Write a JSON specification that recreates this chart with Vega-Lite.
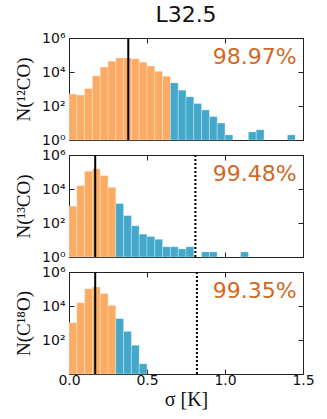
{
  "$schema": "https://vega.github.io/schema/vega-lite/v6.json",
  "padding": {"left": 14, "top": 3, "right": 5, "bottom": 5},
  "bounds": "flush",
  "datasets": {
    "bars": [
      {"p":1,"lo":0.00,"hi":0.05,"n":500,"c":"in"},
      {"p":1,"lo":0.05,"hi":0.10,"n":440,"c":"in"},
      {"p":1,"lo":0.10,"hi":0.15,"n":1070,"c":"in"},
      {"p":1,"lo":0.15,"hi":0.20,"n":5900,"c":"in"},
      {"p":1,"lo":0.20,"hi":0.25,"n":19500,"c":"in"},
      {"p":1,"lo":0.25,"hi":0.30,"n":43600,"c":"in"},
      {"p":1,"lo":0.30,"hi":0.35,"n":67000,"c":"in"},
      {"p":1,"lo":0.35,"hi":0.40,"n":67000,"c":"in"},
      {"p":1,"lo":0.40,"hi":0.45,"n":60000,"c":"in"},
      {"p":1,"lo":0.45,"hi":0.50,"n":38000,"c":"in"},
      {"p":1,"lo":0.50,"hi":0.55,"n":22400,"c":"in"},
      {"p":1,"lo":0.55,"hi":0.60,"n":11000,"c":"in"},
      {"p":1,"lo":0.60,"hi":0.65,"n":5600,"c":"in"},
      {"p":1,"lo":0.65,"hi":0.70,"n":2300,"c":"out"},
      {"p":1,"lo":0.70,"hi":0.75,"n":850,"c":"out"},
      {"p":1,"lo":0.75,"hi":0.80,"n":350,"c":"out"},
      {"p":1,"lo":0.80,"hi":0.85,"n":140,"c":"out"},
      {"p":1,"lo":0.85,"hi":0.90,"n":59,"c":"out"},
      {"p":1,"lo":0.90,"hi":0.95,"n":24,"c":"out"},
      {"p":1,"lo":0.95,"hi":1.00,"n":10,"c":"out"},
      {"p":1,"lo":1.00,"hi":1.05,"n":2,"c":"out"},
      {"p":1,"lo":1.15,"hi":1.20,"n":3,"c":"out"},
      {"p":1,"lo":1.20,"hi":1.25,"n":4,"c":"out"},
      {"p":1,"lo":1.40,"hi":1.45,"n":2,"c":"out"},
      {"p":2,"lo":0.00,"hi":0.05,"n":980,"c":"in"},
      {"p":2,"lo":0.05,"hi":0.10,"n":15800,"c":"in"},
      {"p":2,"lo":0.10,"hi":0.15,"n":112000,"c":"in"},
      {"p":2,"lo":0.15,"hi":0.20,"n":155000,"c":"in"},
      {"p":2,"lo":0.20,"hi":0.25,"n":62000,"c":"in"},
      {"p":2,"lo":0.25,"hi":0.30,"n":12600,"c":"in"},
      {"p":2,"lo":0.30,"hi":0.35,"n":1410,"c":"out"},
      {"p":2,"lo":0.35,"hi":0.40,"n":275,"c":"out"},
      {"p":2,"lo":0.40,"hi":0.45,"n":69,"c":"out"},
      {"p":2,"lo":0.45,"hi":0.50,"n":22,"c":"out"},
      {"p":2,"lo":0.50,"hi":0.55,"n":16,"c":"out"},
      {"p":2,"lo":0.55,"hi":0.60,"n":11,"c":"out"},
      {"p":2,"lo":0.60,"hi":0.65,"n":4,"c":"out"},
      {"p":2,"lo":0.65,"hi":0.70,"n":4,"c":"out"},
      {"p":2,"lo":0.70,"hi":0.75,"n":3,"c":"out"},
      {"p":2,"lo":0.75,"hi":0.80,"n":4,"c":"out"},
      {"p":2,"lo":0.85,"hi":0.90,"n":2,"c":"out"},
      {"p":2,"lo":0.90,"hi":0.95,"n":2,"c":"out"},
      {"p":2,"lo":1.10,"hi":1.15,"n":2,"c":"out"},
      {"p":3,"lo":0.00,"hi":0.05,"n":1050,"c":"in"},
      {"p":3,"lo":0.05,"hi":0.10,"n":15800,"c":"in"},
      {"p":3,"lo":0.10,"hi":0.15,"n":105000,"c":"in"},
      {"p":3,"lo":0.15,"hi":0.20,"n":132000,"c":"in"},
      {"p":3,"lo":0.20,"hi":0.25,"n":54000,"c":"in"},
      {"p":3,"lo":0.25,"hi":0.30,"n":11000,"c":"in"},
      {"p":3,"lo":0.30,"hi":0.35,"n":1820,"c":"out"},
      {"p":3,"lo":0.35,"hi":0.40,"n":324,"c":"out"},
      {"p":3,"lo":0.40,"hi":0.45,"n":49,"c":"out"},
      {"p":3,"lo":0.45,"hi":0.50,"n":4,"c":"out"}
    ],
    "solid": [{"p":1,"x":0.38},{"p":2,"x":0.168},{"p":3,"x":0.168}],
    "dotted": [{"p":2,"x":0.81},{"p":3,"x":0.82}],
    "pct": [{"p":1,"x":1.46,"y":30000,"t":"98.97%"},{"p":2,"x":1.46,"y":30000,"t":"99.48%"},{"p":3,"x":1.46,"y":30000,"t":"99.35%"}]
  },
  "vconcat": [
    {
      "width": 234, "height": 102,
      "title": {"text": "L32.5", "font": "DejaVu Sans", "fontSize": 22, "fontWeight": "normal", "color": "#111", "offset": 4},
      "layer": [
        {"data": {"name": "bars"}, "transform": [{"filter": "datum.p == 1"}],
         "mark": {"type": "bar", "stroke": "#ffffff", "strokeWidth": 0.6, "strokeOpacity": 0.5},
         "encoding": {
           "x": {"field": "lo", "type": "quantitative", "scale": {"domain": [0, 1.5], "nice": false}, "axis": {"orient": "bottom", "values": [0, 0.5, 1, 1.5], "labels": false, "title": null, "minExtent": 0, "maxExtent": 0}},
           "x2": {"field": "hi"},
           "y": {"field": "n", "type": "quantitative", "scale": {"type": "log", "domain": [1, 1000000], "nice": false}, "axis": {"orient": "left", "values": [1, 100, 10000, 1000000], "labelExpr": "datum.value==1?'10⁰':datum.value==100?'10²':datum.value==10000?'10⁴':'10⁶'", "title": "N(¹²CO)"}},
           "y2": {"datum": 1},
           "color": {"field": "c", "type": "nominal", "scale": {"domain": ["in", "out"], "range": ["#fdab63", "#44a8cb"]}, "legend": null}
         }},
        {"data": {"name": "solid"}, "transform": [{"filter": "datum.p == 1"}],
         "mark": {"type": "rule", "color": "#000", "strokeWidth": 2},
         "encoding": {"x": {"field": "x", "type": "quantitative", "axis": null}}},
        {"data": {"name": "pct"}, "transform": [{"filter": "datum.p == 1"}],
         "mark": {"type": "text", "align": "right", "baseline": "alphabetic", "font": "DejaVu Sans", "fontSize": 22, "color": "#d2691e"},
         "encoding": {
           "x": {"field": "x", "type": "quantitative", "axis": {"orient": "top", "values": [0, 0.5, 1, 1.5], "labels": false, "title": null, "minExtent": 0, "maxExtent": 0}},
           "y": {"field": "y", "type": "quantitative", "scale": {"type": "log", "domain": [1, 1000000], "nice": false}, "axis": {"orient": "right", "values": [1, 100, 10000, 1000000], "labels": false, "title": null, "minExtent": 0, "maxExtent": 0}},
           "text": {"field": "t"}
         }}
      ],
      "resolve": {"axis": {"x": "independent", "y": "independent"}}
    },
    {
      "width": 234, "height": 102,
      "layer": [
        {"data": {"name": "bars"}, "transform": [{"filter": "datum.p == 2"}],
         "mark": {"type": "bar", "stroke": "#ffffff", "strokeWidth": 0.6, "strokeOpacity": 0.5},
         "encoding": {
           "x": {"field": "lo", "type": "quantitative", "scale": {"domain": [0, 1.5], "nice": false}, "axis": {"orient": "bottom", "values": [0, 0.5, 1, 1.5], "labels": false, "title": null, "minExtent": 0, "maxExtent": 0}},
           "x2": {"field": "hi"},
           "y": {"field": "n", "type": "quantitative", "scale": {"type": "log", "domain": [1, 1000000], "nice": false}, "axis": {"orient": "left", "values": [1, 100, 10000, 1000000], "labelExpr": "datum.value==1?'10⁰':datum.value==100?'10²':datum.value==10000?'10⁴':'10⁶'", "title": "N(¹³CO)"}},
           "y2": {"datum": 1},
           "color": {"field": "c", "type": "nominal", "scale": {"domain": ["in", "out"], "range": ["#fdab63", "#44a8cb"]}, "legend": null}
         }},
        {"data": {"name": "solid"}, "transform": [{"filter": "datum.p == 2"}],
         "mark": {"type": "rule", "color": "#000", "strokeWidth": 2},
         "encoding": {"x": {"field": "x", "type": "quantitative", "axis": null}}},
        {"data": {"name": "dotted"}, "transform": [{"filter": "datum.p == 2"}],
         "mark": {"type": "rule", "color": "#000", "strokeWidth": 2, "strokeDash": [2, 2]},
         "encoding": {"x": {"field": "x", "type": "quantitative", "axis": null}}},
        {"data": {"name": "pct"}, "transform": [{"filter": "datum.p == 2"}],
         "mark": {"type": "text", "align": "right", "baseline": "alphabetic", "font": "DejaVu Sans", "fontSize": 22, "color": "#d2691e"},
         "encoding": {
           "x": {"field": "x", "type": "quantitative", "axis": {"orient": "top", "values": [0, 0.5, 1, 1.5], "labels": false, "title": null, "minExtent": 0, "maxExtent": 0}},
           "y": {"field": "y", "type": "quantitative", "scale": {"type": "log", "domain": [1, 1000000], "nice": false}, "axis": {"orient": "right", "values": [1, 100, 10000, 1000000], "labels": false, "title": null, "minExtent": 0, "maxExtent": 0}},
           "text": {"field": "t"}
         }}
      ],
      "resolve": {"axis": {"x": "independent", "y": "independent"}}
    },
    {
      "width": 234, "height": 102,
      "layer": [
        {"data": {"name": "bars"}, "transform": [{"filter": "datum.p == 3"}],
         "mark": {"type": "bar", "stroke": "#ffffff", "strokeWidth": 0.6, "strokeOpacity": 0.5},
         "encoding": {
           "x": {"field": "lo", "type": "quantitative", "scale": {"domain": [0, 1.5], "nice": false}, "axis": {"orient": "bottom", "values": [0, 0.5, 1, 1.5], "format": ".1f", "title": "σ [K]", "titleFontSize": 20, "titlePadding": 2}},
           "x2": {"field": "hi"},
           "y": {"field": "n", "type": "quantitative", "scale": {"type": "log", "domain": [1, 1000000], "nice": false}, "axis": {"orient": "left", "values": [1, 100, 10000, 1000000], "labelExpr": "datum.value==1?'':datum.value==100?'10²':datum.value==10000?'10⁴':'10⁶'", "title": "N(C¹⁸O)"}},
           "y2": {"datum": 1},
           "color": {"field": "c", "type": "nominal", "scale": {"domain": ["in", "out"], "range": ["#fdab63", "#44a8cb"]}, "legend": null}
         }},
        {"data": {"name": "solid"}, "transform": [{"filter": "datum.p == 3"}],
         "mark": {"type": "rule", "color": "#000", "strokeWidth": 2},
         "encoding": {"x": {"field": "x", "type": "quantitative", "axis": null}}},
        {"data": {"name": "dotted"}, "transform": [{"filter": "datum.p == 3"}],
         "mark": {"type": "rule", "color": "#000", "strokeWidth": 2, "strokeDash": [2, 2]},
         "encoding": {"x": {"field": "x", "type": "quantitative", "axis": null}}},
        {"data": {"name": "pct"}, "transform": [{"filter": "datum.p == 3"}],
         "mark": {"type": "text", "align": "right", "baseline": "alphabetic", "font": "DejaVu Sans", "fontSize": 22, "color": "#d2691e"},
         "encoding": {
           "x": {"field": "x", "type": "quantitative", "axis": {"orient": "top", "values": [0, 0.5, 1, 1.5], "labels": false, "title": null, "minExtent": 0, "maxExtent": 0}},
           "y": {"field": "y", "type": "quantitative", "scale": {"type": "log", "domain": [1, 1000000], "nice": false}, "axis": {"orient": "right", "values": [1, 100, 10000, 1000000], "labels": false, "title": null, "minExtent": 0, "maxExtent": 0}},
           "text": {"field": "t"}
         }}
      ],
      "resolve": {"axis": {"x": "independent", "y": "independent"}}
    }
  ],
  "spacing": 15,
  "config": {
    "view": {"stroke": "#222", "strokeWidth": 1},
    "axis": {"grid": false, "domain": false, "ticks": true, "tickColor": "#222", "tickSize": -5, "tickWidth": 1,
             "labelFont": "DejaVu Sans", "labelFontSize": 14, "labelColor": "#111", "labelFlush": false, "labelOverlap": false, "labelPadding": 9,
             "titleFont": "Liberation Serif", "titleFontWeight": "normal", "titleFontSize": 19, "titleColor": "#111", "titlePadding": 8},
    "axisX": {"labelPadding": 4, "titlePadding": 4},
    "axisY": {"labelBaseline": "middle"}
  }
}
